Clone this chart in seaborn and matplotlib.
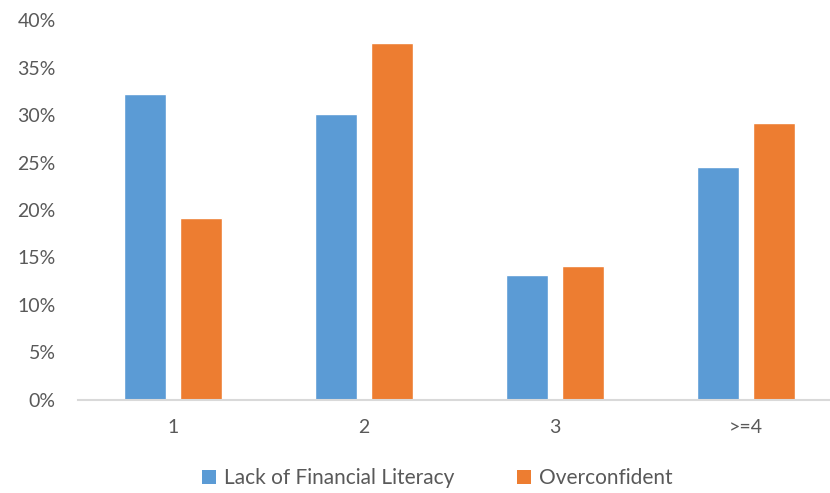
import matplotlib
matplotlib.use("Agg")
import matplotlib.pyplot as plt
import seaborn as sns
import pandas as pd
from matplotlib.patches import Patch

categories = ["1", "2", "3", ">=4"]
series_names = ["Lack of Financial Literacy", "Overconfident"]
lack_literacy = [32.2, 30.1, 13.2, 24.5]
overconfident = [19.2, 37.6, 14.1, 29.2]
y_ticks = [0, 5, 10, 15, 20, 25, 30, 35, 40]

colors = ["#5B9BD5", "#ED7D31"]
text_color = "#595959"

df = pd.DataFrame({
    "group": categories * 2,
    "series": [series_names[0]] * 4 + [series_names[1]] * 4,
    "value": lack_literacy + overconfident,
})

sns.set_theme(style="white")
plt.rcParams["font.family"] = ["Lato", "DejaVu Sans"]

fig = plt.figure(figsize=(8.3, 4.93), dpi=100)
ax = fig.add_axes([0.094, 0.189, 0.906, 0.770])

sns.barplot(data=df, x="group", y="value", hue="series", order=categories,
            hue_order=series_names, palette=colors, width=0.58, gap=0.24,
            saturation=1, legend=False, ax=ax)

ax.set_ylim(0, 40)
ax.set_xlim(-0.497, 3.44)
ax.set_yticks(y_ticks)
ax.set_yticklabels([f"{t}%" for t in y_ticks])
ax.set_xlabel("")
ax.set_ylabel("")
ax.tick_params(axis="both", length=0, labelsize=14, colors=text_color)
ax.tick_params(axis="x", pad=14)
ax.tick_params(axis="y", pad=16)

for side in ["top", "right", "left"]:
    ax.spines[side].set_visible(False)
ax.spines["bottom"].set_color("#D9D9D9")
ax.spines["bottom"].set_linewidth(1.5)

handles = [Patch(facecolor=c, edgecolor="none") for c in colors]
fig.legend(handles, series_names, loc="center", bbox_to_anchor=(0.527, 0.03),
           ncol=2, frameon=False, fontsize=15, handlelength=0.65,
           handleheight=0.65, handletextpad=0.4, columnspacing=3.0,
           labelcolor=text_color)

fig.savefig("out.png", dpi=100)
